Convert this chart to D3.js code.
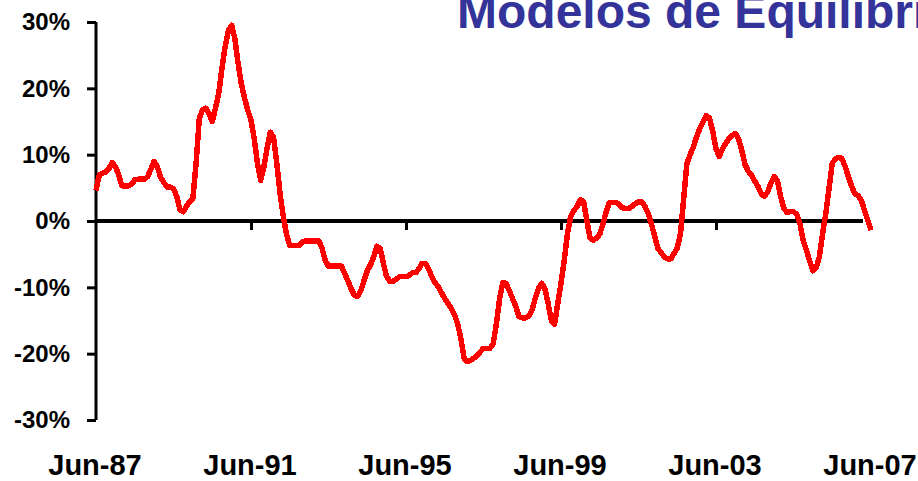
<!DOCTYPE html>
<html>
<head>
<meta charset="utf-8">
<script src="https://cdn.jsdelivr.net/npm/d3@7/dist/d3.min.js"></script>
<style>
  html, body { margin: 0; padding: 0; background: #fff; }
  svg { display: block; }
  text { font-family: "Liberation Sans", Arial, sans-serif; }
</style>
</head>
<body>
<svg id="chart" width="918" height="481"></svg>
<script>
// ---- Data (monthly, Jun-87 .. Jun-07), values in % ----
const title = "Modelos de Equilibrio";
const xTickLabels = ["Jun-87", "Jun-91", "Jun-95", "Jun-99", "Jun-03", "Jun-07"];
const xTickMonths = [0, 48, 96, 144, 192, 240];
const yTickValues = [30, 20, 10, 0, -10, -20, -30];
const values = [
  4.6, 6.9, 7.2, 7.4, 7.9, 8.8, 8.2, 7.0, 5.3, 5.3,
  5.3, 5.5, 6.2, 6.3, 6.3, 6.3, 6.7, 7.8, 9.0, 8.2,
  6.6, 5.8, 5.1, 5.1, 4.9, 3.7, 1.7, 1.4, 2.2, 2.9,
  3.4, 8.7, 15.5, 16.8, 17.0, 16.2, 15.0, 17.0, 19.2, 23.0,
  26.3, 28.7, 29.5, 27.5, 23.8, 20.7, 18.5, 16.7, 15.2, 12.4,
  8.7, 6.1, 8.2, 11.0, 13.4, 12.6, 8.7, 4.1, 0.7, -2.0,
  -3.7, -3.7, -3.7, -3.7, -3.1, -3.0, -3.0, -3.0, -3.0, -3.0,
  -4.1, -6.0, -6.8, -6.8, -6.8, -6.8, -6.8, -7.9, -9.0, -10.2,
  -11.2, -11.4, -10.5, -9.0, -7.5, -6.6, -5.4, -3.8, -4.1, -6.4,
  -8.4, -9.1, -9.1, -8.8, -8.4, -8.4, -8.4, -8.2, -7.8, -7.8,
  -7.2, -6.4, -6.4, -7.2, -8.4, -9.3, -9.9, -10.8, -11.7, -12.4,
  -13.2, -14.1, -15.5, -17.7, -20.7, -21.2, -21.0, -20.7, -20.3, -19.7,
  -19.2, -19.2, -19.2, -18.5, -15.5, -11.7, -9.3, -9.4, -10.5, -11.7,
  -12.9, -14.4, -14.6, -14.6, -14.3, -13.5, -11.7, -10.2, -9.4, -10.2,
  -12.4, -15.0, -15.6, -12.4, -9.4, -6.0, -1.9, 0.7, 1.6, 2.2,
  3.2, 2.9, 0.1, -2.6, -2.9, -2.6, -2.0, -0.4, 1.4, 2.8,
  2.8, 2.8, 2.5, 2.0, 1.9, 1.9, 2.2, 2.6, 2.9, 2.9,
  2.2, 1.1, -0.4, -2.3, -4.1, -4.8, -5.4, -5.7, -5.7, -4.9,
  -4.1, -1.9, 3.4, 8.7, 10.0, 11.2, 12.7, 14.0, 14.9, 15.9,
  15.5, 13.5, 10.9, 9.7, 10.9, 11.7, 12.4, 12.9, 13.2, 12.4,
  10.6, 8.5, 7.5, 6.9, 6.0, 5.2, 4.1, 3.7, 4.4, 5.7,
  6.7, 6.1, 3.7, 1.9, 1.3, 1.4, 1.4, 1.0, -0.4, -2.9,
  -4.4, -6.0, -7.5, -7.1, -5.4, -1.9, 1.1, 4.9, 8.7, 9.4,
  9.6, 9.4, 8.2, 6.7, 5.2, 4.1, 3.8, 3.1, 1.6, 0.1,
  -1.4
];

// ---- Drawing ----
const svg = d3.select("#chart");

const x = d3.scaleLinear().domain([0, 240]).range([96, 871]);
const y = d3.scaleLinear().domain([-30, 30]).range([420, 22]);

// Title (cut off at the top/right edge, as in the reference)
svg.append("text")
  .attr("x", 457).attr("y", 28)
  .attr("font-size", 48).attr("font-weight", "bold")
  .attr("fill", "#333399")
  .text(title);

// Y axis
const yAxis = d3.axisLeft(y)
  .tickValues(yTickValues)
  .tickSize(9)
  .tickPadding(17)
  .tickFormat(d => d + "%");

const gy = svg.append("g").attr("transform", "translate(96,0)").call(yAxis);
gy.select(".domain").attr("stroke", "#000").attr("stroke-width", 3).attr("d", `M0,${y(30)}V${y(-30)}`);
gy.selectAll(".tick line").attr("stroke", "#000").attr("stroke-width", 3);
gy.selectAll(".tick text")
  .attr("font-family", '"Liberation Sans", Arial, sans-serif')
  .attr("font-size", 24).attr("font-weight", "bold").attr("fill", "#000");

// X axis along zero line
const xAxis = d3.axisBottom(x)
  .tickValues(xTickMonths.slice(1, -1))
  .tickSize(9)
  .tickFormat("");
const gx = svg.append("g").attr("transform", `translate(0,${y(0)})`).call(xAxis);
gx.select(".domain").attr("stroke", "#000").attr("stroke-width", 4).attr("d", `M96,0H863`);
gx.selectAll(".tick line").attr("stroke", "#000").attr("stroke-width", 3);

// X tick labels at bottom
svg.append("g").selectAll("text")
  .data(xTickMonths)
  .join("text")
  .attr("x", d => x(d) - 1)
  .attr("y", 475)
  .attr("text-anchor", "middle")
  .attr("font-size", 29).attr("font-weight", "bold").attr("fill", "#000")
  .text((d, i) => xTickLabels[i]);

// Line
const line = d3.line()
  .x((d, i) => x(i))
  .y(d => y(d));

svg.append("path")
  .datum(values)
  .attr("fill", "none")
  .attr("stroke", "#ff0000")
  .attr("stroke-width", 5.5)
  .attr("stroke-linejoin", "round")
  .attr("shape-rendering", "crispEdges")
  .attr("d", line);
</script>
</body>
</html>
